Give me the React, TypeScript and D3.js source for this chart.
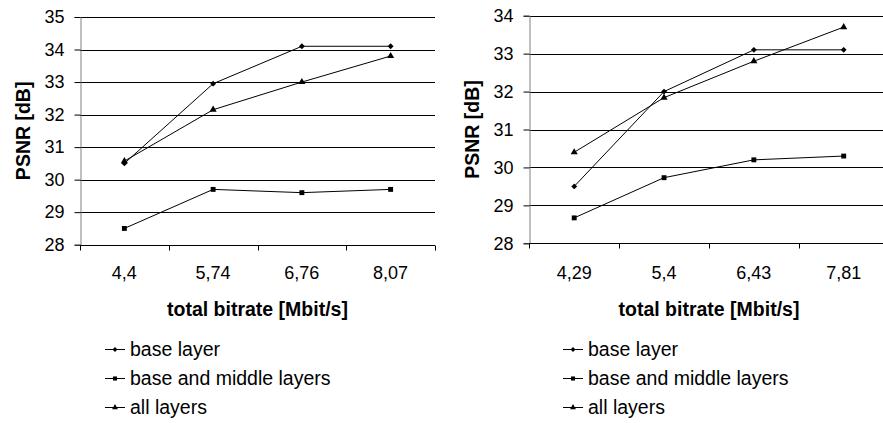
import { useEffect, useRef } from 'react';
import * as d3 from 'd3';

// left panel
const leftCategories = ['4,4', '5,74', '6,76', '8,07'];
const leftBase = [30.5, 32.95, 34.1, 34.1];
const leftMiddle = [28.5, 29.7, 29.6, 29.7];
const leftAll = [30.57, 32.15, 33.0, 33.8];
const leftTicks = [28, 29, 30, 31, 32, 33, 34, 35];

// right panel
const rightCategories = ['4,29', '5,4', '6,43', '7,81'];
const rightBase = [29.5, 32.0, 33.1, 33.1];
const rightMiddle = [28.67, 29.73, 30.2, 30.3];
const rightAll = [30.4, 31.84, 32.8, 33.7];
const rightTicks = [28, 29, 30, 31, 32, 33, 34];

const seriesNames = ['base layer', 'base and middle layers', 'all layers'];
const symbols = [d3.symbolDiamond2, d3.symbolSquare, d3.symbolTriangle];
const symbolSizes = [22, 24, 22];

const FONT = '"Liberation Sans", Arial, sans-serif';

interface Panel {
  categories: string[];
  series: number[][];
  ticks: number[];
  left: number;
  right: number;
  top: number;
  bottom: number;
  yLabelX: number;
  legendX: number;
}

const panels: Panel[] = [
  {
    categories: leftCategories,
    series: [leftBase, leftMiddle, leftAll],
    ticks: leftTicks,
    left: 80, right: 435, top: 17, bottom: 244.7,
    yLabelX: 30,
    legendX: 105,
  },
  {
    categories: rightCategories,
    series: [rightBase, rightMiddle, rightAll],
    ticks: rightTicks,
    left: 529.3, right: 888.6, top: 15.7, bottom: 243.3,
    yLabelX: 479,
    legendX: 563,
  },
];

const App = () => {
  const svgRef = useRef<SVGSVGElement>(null);

  useEffect(() => {
    if (!svgRef.current) return;
    const svg = d3.select(svgRef.current);
    svg.selectAll('*').remove();

    panels.forEach(p => {
      const g = svg.append('g');
      const x = d3.scaleBand()
        .domain(p.categories)
        .range([p.left, p.right])
        .padding(0);
      const y = d3.scaleLinear()
        .domain([d3.min(p.ticks) as number, d3.max(p.ticks) as number])
        .range([p.bottom, p.top]);

      // horizontal grid
      g.append('g')
        .selectAll('line')
        .data(p.ticks.slice(1))
        .enter().append('line')
        .attr('x1', p.left)
        .attr('x2', p.right)
        .attr('y1', d => Math.round(y(d)) + 0.5)
        .attr('y2', d => Math.round(y(d)) + 0.5)
        .attr('stroke', '#000')
        .attr('stroke-width', 1);

      // y axis
      const yAxis = g.append('g')
        .attr('transform', `translate(${Math.round(p.left) + 0.5},0)`)
        .call(d3.axisLeft(y).tickValues(p.ticks).tickSize(6).tickPadding(10).tickFormat(d3.format('d')));
      yAxis.select('.domain').attr('stroke', '#808080');
      yAxis.selectAll('.tick line').attr('stroke', '#000');
      yAxis.selectAll('.tick text')
        .attr('font-family', FONT)
        .attr('font-size', 18)
        .attr('fill', '#000');

      // x axis: line with ticks at band edges
      const xg = g.append('g');
      const yb = Math.round(p.bottom) + 0.5;
      xg.append('line')
        .attr('x1', p.left).attr('x2', p.right)
        .attr('y1', yb).attr('y2', yb)
        .attr('stroke', '#000');
      const edges = p.categories.map(c => x(c) as number).concat([p.right]);
      xg.selectAll('.xt')
        .data(edges)
        .enter().append('line')
        .attr('x1', d => Math.round(d) + 0.5)
        .attr('x2', d => Math.round(d) + 0.5)
        .attr('y1', yb)
        .attr('y2', yb + 5)
        .attr('stroke', '#000');
      xg.selectAll('.xl')
        .data(p.categories)
        .enter().append('text')
        .attr('x', d => (x(d) as number) + x.bandwidth() / 2)
        .attr('y', 278.5)
        .attr('text-anchor', 'middle')
        .attr('font-family', FONT)
        .attr('font-size', 18)
        .text(d => d);

      // axis titles
      g.append('text')
        .attr('x', (p.left + p.right) / 2)
        .attr('y', 315.5)
        .attr('text-anchor', 'middle')
        .attr('font-family', FONT)
        .attr('font-size', 19.5)
        .attr('font-weight', 'bold')
        .text('total bitrate [Mbit/s]');
      g.append('text')
        .attr('transform', `translate(${p.yLabelX},${(p.top + p.bottom) / 2}) rotate(-90)`)
        .attr('text-anchor', 'middle')
        .attr('font-family', FONT)
        .attr('font-size', 19.5)
        .attr('font-weight', 'bold')
        .text('PSNR [dB]');

      // series
      const line = d3.line<number>()
        .x((_, i) => (x(p.categories[i]) as number) + x.bandwidth() / 2)
        .y(d => y(d));
      p.series.forEach((vals, si) => {
        g.append('path')
          .datum(vals)
          .attr('d', line)
          .attr('fill', 'none')
          .attr('stroke', '#000')
          .attr('stroke-width', 1);
        g.selectAll(`.m${si}`)
          .data(vals)
          .enter().append('path')
          .attr('transform', (d, i) => `translate(${(x(p.categories[i]) as number) + x.bandwidth() / 2},${y(d)})`)
          .attr('d', d3.symbol().type(symbols[si]).size(symbolSizes[si])())
          .attr('fill', '#000');
      });

      // legend
      const lg = g.append('g');
      seriesNames.forEach((name, si) => {
        const cy = 349 + si * 29;
        lg.append('line')
          .attr('x1', p.legendX).attr('x2', p.legendX + 20)
          .attr('y1', cy + 0.5).attr('y2', cy + 0.5)
          .attr('stroke', '#000');
        lg.append('path')
          .attr('transform', `translate(${p.legendX + 10},${cy + 0.5})`)
          .attr('d', d3.symbol().type(symbols[si]).size(symbolSizes[si] * 0.7)())
          .attr('fill', '#000');
        lg.append('text')
          .attr('x', p.legendX + 25)
          .attr('y', cy + 7)
          .attr('font-family', FONT)
          .attr('font-size', 19.5)
          .text(name);
      });
    });
  }, []);

  return (
    <svg
      ref={svgRef}
      width={883}
      height={423}
      style={{ position: 'absolute', left: 0, top: 0, background: '#fff' }}
    />
  );
};

export default App;
